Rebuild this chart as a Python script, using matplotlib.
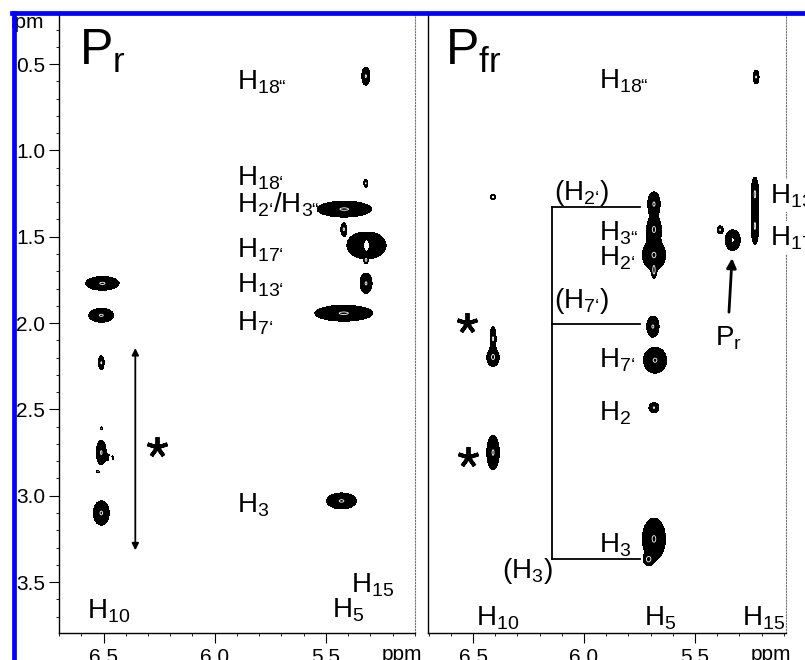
import numpy as np
import matplotlib
matplotlib.use("Agg")
import matplotlib.pyplot as plt
from matplotlib.lines import Line2D
from matplotlib.patches import Rectangle

plt.rcParams['font.family'] = ['Liberation Sans', 'DejaVu Sans']
plt.rcParams['mathtext.fontset'] = 'custom'
plt.rcParams['mathtext.rm'] = 'Liberation Sans'
plt.rcParams['mathtext.default'] = 'regular'

# cross peaks: x ppm, y ppm, half width x, half width y, amplitude (negative = hole)
pr_x = [5.321, 5.321, 5.418, 5.42, 5.318, 5.318, 5.32, 5.32, 5.42,
        6.505, 6.51, 6.51, 6.51, 6.51, 6.47, 6.47, 6.525, 6.51, 5.43]
pr_y = [0.57, 1.19, 1.34, 1.456, 1.55, 1.55, 1.635, 1.77, 1.943,
        1.77, 1.955, 2.23, 2.61, 2.75, 2.78, 2.78, 2.86, 3.10, 3.03]
pr_w = [0.018, 0.009, 0.122, 0.013, 0.088, 0.018, 0.008, 0.027, 0.13,
        0.075, 0.056, 0.013, 0.005, 0.022, 0.018, 0.008, 0.005, 0.036, 0.067]
pr_h = [0.052, 0.023, 0.046, 0.035, 0.08, 0.035, 0.017, 0.058, 0.046,
        0.04, 0.04, 0.04, 0.008, 0.07, 0.023, 0.012, 0.008, 0.07, 0.046]
pr_a = [1, 1, 1, 1, 1, -0.9, 1, 1, 1,
        1, 1, 1, 1, 1, 1, -0.9, 1, 1, 1]

pfr_x = [5.225, 6.41, 6.41, 5.685, 5.685, 5.685, 5.685, 5.387, 5.33, 5.33,
         5.23, 5.23, 5.69, 5.68, 5.685, 5.685, 5.71, 6.41, 6.41, 6.41]
pfr_y = [0.575, 1.27, 1.27, 1.31, 1.456, 1.606, 1.70, 1.46, 1.52, 1.52,
         1.25, 1.44, 2.02, 2.215, 2.49, 3.25, 3.37, 2.2, 2.09, 2.75]
pfr_w = [0.0135, 0.0135, 0.006, 0.028, 0.033, 0.052, 0.01, 0.0135, 0.034, 0.01,
         0.017, 0.017, 0.028, 0.052, 0.0225, 0.052, 0.02, 0.028, 0.0135, 0.028]
pfr_h = [0.04, 0.017, 0.008, 0.07, 0.07, 0.085, 0.04, 0.023, 0.06, 0.018,
         0.095, 0.105, 0.06, 0.075, 0.029, 0.12, 0.03, 0.05, 0.07, 0.1]
pfr_a = [1, 1, -0.9, 1, 1, 1, 1, 1, 1, -0.9,
         1, 1, 1, 1, 1, 1, 1, 1, 1, 1]

# assignments
pr_labels = ['H$_{18“}$', 'H$_{18‘}$', 'H$_{2‘}$/H$_{3“}$', 'H$_{17‘}$', 'H$_{13‘}$',
             'H$_{7‘}$', 'H$_{3}$', 'H$_{10}$', 'H$_{5}$', 'H$_{15}$']
pr_lx = [5.902, 5.902, 5.902, 5.902, 5.902, 5.902, 5.902, 6.576, 5.473, 5.388]
pr_ly = [0.645, 1.201, 1.358, 1.618, 1.821, 2.041, 3.096, 3.71, 3.704, 3.559]

pfr_labels = ['H$_{18“}$', '(H$_{2‘}$)', '(H$_{7‘}$)', 'H$_{3“}$', 'H$_{2‘}$', 'H$_{7‘}$',
              'H$_{2}$', 'H$_{3}$', '(H$_{3}$)', 'H$_{10}$', 'H$_{5}$', 'H$_{15}$',
              'H$_{13}$', 'H$_{17}$', 'P$_{r}$']
pfr_lx = [5.932, 6.135, 6.135, 5.932, 5.932, 5.932, 5.932, 5.932, 6.369,
          6.486, 5.73, 5.288, 5.162, 5.162, 5.41]
pfr_ly = [0.639, 1.288, 1.914, 1.52, 1.665, 2.256, 2.563, 3.327, 3.478,
          3.75, 3.75, 3.75, 1.305, 1.549, 2.128]

# bracket connecting the P_fr peaks with their P_r counterparts
bracket_y = [1.328, 2.006, 3.368]
bracket_x = [6.144, 5.748]

yticks = [0.5, 1.0, 1.5, 2.0, 2.5, 3.0, 3.5]
ytick_labels = ['0.5', '1.0', '1.5', '2.0', '2.5', '3.0', '3.5']
xticks = [6.5, 6.0, 5.5]
xtick_labels = ['6.5', '6.0', '5.5']

gx = np.linspace(5.0, 6.8, 1000)
gy = np.linspace(0.1, 3.9, 1200)
GX, GY = np.meshgrid(gx, gy)


def spectrum(xs, ys, ws, hs, amps):
    z = np.zeros_like(GX)
    for x0, y0, w, h, a in zip(xs, ys, ws, hs, amps):
        k = 1.552 if a > 0 else 0.7 * 1.552
        sx, sy = w / k, h / k
        z += a * np.exp(-0.5 * ((GX - x0) / sx) ** 2 - 0.5 * ((GY - y0) / sy) ** 2)
    return z


def setup_axis(ax, xlim, show_y):
    ax.set_xlim(*xlim)
    ax.set_ylim(3.795, 0.21)
    ax.set_xticks(xticks)
    ax.set_xticklabels(xtick_labels)
    ax.set_xticks(np.arange(5.1, 6.75, 0.1), minor=True)
    ax.tick_params(axis='x', which='major', direction='out', length=7, width=0.8, pad=4, labelsize=15)
    ax.tick_params(axis='x', which='minor', direction='out', length=2.5, width=0.6)
    if show_y:
        ax.set_yticks(yticks)
        ax.set_yticklabels(ytick_labels)
        ax.set_yticks(np.arange(0.3, 3.8, 0.1), minor=True)
        ax.tick_params(axis='y', which='major', direction='out', length=7, width=0.8, pad=3, labelsize=15)
        ax.tick_params(axis='y', which='minor', direction='out', length=2.5, width=0.6)
    else:
        ax.set_yticks([])
    ax.spines['right'].set_linestyle(':')
    ax.spines['right'].set_color('0.45')
    ax.spines['top'].set_visible(False)
    for s in ['left', 'bottom']:
        ax.spines[s].set_linewidth(1.0)


fig = plt.figure(figsize=(8.05, 6.6), dpi=100)
ax1 = fig.add_axes([0.0733, 0.0409, 0.4422, 0.9379])
ax2 = fig.add_axes([0.5317, 0.0409, 0.4447, 0.9379])

# left panel: P_r
z1 = spectrum(pr_x, pr_y, pr_w, pr_h, pr_a)
ax1.contourf(GX, GY, z1, levels=[0.3, 100], colors='black')
ax1.contour(GX, GY, z1, levels=[0.97], colors='white', linewidths=0.6)
setup_axis(ax1, (6.696, 5.107), True)
ax1.text(6.612, 0.506, 'P$_{r}$', fontsize=36, ha='left', va='baseline')
for lab, lx, ly in zip(pr_labels, pr_lx, pr_ly):
    ax1.text(lx, ly, lab, fontsize=20, ha='left', va='baseline')
ax1.annotate('', xy=(6.357, 2.145), xytext=(6.357, 3.316),
             arrowprops=dict(arrowstyle='<|-|>', color='black', lw=1.3,
                             mutation_scale=10, shrinkA=0, shrinkB=0))
ax1.plot([6.259], [2.72], marker=(5, 2, 0), color='black', markersize=15, mew=2.8)

# right panel: P_fr
z2 = spectrum(pfr_x, pfr_y, pfr_w, pfr_h, pfr_a)
ax2.contourf(GX, GY, z2, levels=[0.3, 100], colors='black')
ax2.contour(GX, GY, z2, levels=[0.97], colors='white', linewidths=0.6)
setup_axis(ax2, (6.703, 5.09), False)
ax2.text(6.626, 0.506, 'P$_{fr}$', fontsize=36, ha='left', va='baseline')
for lab, lx, ly in zip(pfr_labels, pfr_lx, pfr_ly):
    t = ax2.text(lx, ly, lab, fontsize=20, ha='left', va='baseline', clip_on=False)
    if lab in ('H$_{13}$', 'H$_{17}$'):
        t.set_bbox(dict(facecolor='white', edgecolor='none', pad=2))
ax2.plot([bracket_x[0], bracket_x[0]], [bracket_y[0], bracket_y[-1]], color='black', lw=1.3)
for by in bracket_y:
    ax2.plot(bracket_x, [by, by], color='black', lw=1.3)
ax2.annotate('', xy=(5.333, 1.624), xytext=(5.347, 1.937),
             arrowprops=dict(arrowstyle='-|>', color='black', lw=2.0,
                             mutation_scale=14, shrinkA=0, shrinkB=0))
ax2.plot([6.527, 6.523], [2.0, 2.777], linestyle='none', marker=(5, 2, 0),
         color='black', markersize=15, mew=2.8)

# unit labels
fig.text(44 / 805, 1 - 22 / 660, 'ppm', fontsize=15, ha='right', va='center')
fig.text(402 / 805, 1 - 645 / 660, 'ppm', fontsize=15, ha='center', va='top')
fig.text(771 / 805, 1 - 645 / 660, 'ppm', fontsize=15, ha='center', va='top')

# the picture is a cut-out: white margin and blue frame on the top and left
fig.add_artist(Rectangle((0, 0), 12 / 805, 1, transform=fig.transFigure,
                         facecolor='white', edgecolor='none', zorder=9))
fig.add_artist(Rectangle((0, 1 - 11 / 660), 1, 11 / 660, transform=fig.transFigure,
                         facecolor='white', edgecolor='none', zorder=9))
fig.add_artist(Line2D([13.5 / 805, 13.5 / 805], [0, 1 - 12.5 / 660],
                      transform=fig.transFigure, color='#0000ff', lw=3.4, zorder=10))
fig.add_artist(Line2D([11.8 / 805, 1], [1 - 12.5 / 660, 1 - 12.5 / 660],
                      transform=fig.transFigure, color='#0000ff', lw=3.4, zorder=10))

fig.savefig('out.png', dpi=100)
